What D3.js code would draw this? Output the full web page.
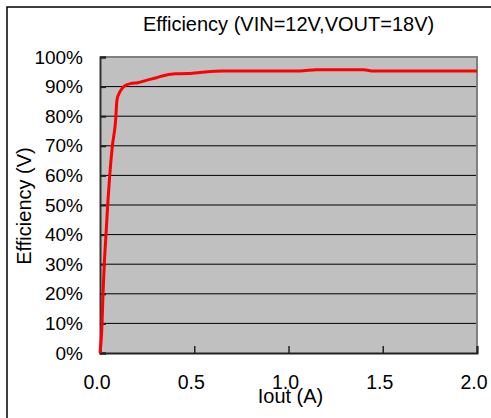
<!DOCTYPE html>
<html>
<head>
<meta charset="utf-8">
<script src="https://cdn.jsdelivr.net/npm/d3@7"></script>
<style>
  html, body { margin: 0; padding: 0; background: #fff; }
  svg { display: block; font-family: "Liberation Sans", Arial, sans-serif; }
</style>
</head>
<body>
<svg id="chart" width="491" height="418"></svg>
<script>
// Data
const iout = [0, 0.011, 0.016, 0.023, 0.032, 0.041, 0.051, 0.065, 0.083, 0.09, 0.106, 0.13, 0.168, 0.2, 0.25, 0.3, 0.33, 0.4, 0.46, 0.53, 0.65, 1.06, 1.15, 1.4, 1.44, 2.0];
const efficiency = [0, 10.1, 19.9, 30.4, 40.2, 50.3, 59.5, 69.6, 78.7, 85.5, 88.3, 90.2, 91.1, 91.3, 92.2, 93.0, 93.6, 94.3, 94.4, 94.8, 95.3, 95.3, 95.7, 95.7, 95.3, 95.3];
const xTicks = [0, 0.5, 1.0, 1.5, 2.0];
const yTicks = [0, 10, 20, 30, 40, 50, 60, 70, 80, 90, 100];
const titleText = "Efficiency (VIN=12V,VOUT=18V)";
const xLabel = "Iout (A)";
const yLabel = "Efficiency (V)";

const svg = d3.select("#chart");
const pLeft = 100, pRight = 477, pTop = 57, pBottom = 353;
const x = d3.scaleLinear().domain([0, 2]).range([pLeft, pRight]);
const y = d3.scaleLinear().domain([0, 100]).range([pBottom, pTop]);

// outer frame
svg.append("rect").attr("x", 7).attr("y", 7).attr("width", 700).attr("height", 700)
  .attr("fill", "none").attr("stroke", "#000").attr("stroke-width", 1.5);

// plot background
svg.append("rect").attr("x", pLeft).attr("y", pTop).attr("width", pRight - pLeft).attr("height", pBottom - pTop)
  .attr("fill", "#c0c0c0");

// gridlines
svg.append("g").selectAll("line").data(yTicks.filter(d => d > 0 && d < 100)).join("line")
  .attr("x1", pLeft).attr("x2", pRight)
  .attr("y1", d => y(d)).attr("y2", d => y(d))
  .attr("stroke", "#000").attr("stroke-width", 1);

// top and right border (gray)
svg.append("path")
  .attr("d", `M${pLeft},${pTop}H${pRight}V${pBottom}`)
  .attr("fill", "none").attr("stroke", "#808080").attr("stroke-width", 2);

// y axis
const yAxis = svg.append("g").attr("transform", `translate(${pLeft},0)`)
  .call(d3.axisLeft(y).tickValues(yTicks).tickSize(-6).tickPadding(17).tickFormat(d => d + "%"));
yAxis.select(".domain").attr("stroke", "#333").attr("stroke-width", 2);
yAxis.selectAll(".tick line").attr("stroke", "#222").attr("stroke-width", 2);
yAxis.selectAll(".tick text").attr("font-size", 19).attr("fill", "#000")
  .attr("font-family", "Liberation Sans, Arial, sans-serif");

// x axis
const xAxis = svg.append("g").attr("transform", `translate(0,${pBottom})`)
  .call(d3.axisBottom(x).tickValues(xTicks).tickSize(-7).tickPadding(22).tickFormat(d3.format(".1f")));
xAxis.select(".domain").attr("stroke", "#222").attr("stroke-width", 2);
xAxis.selectAll(".tick line").attr("stroke", "#222").attr("stroke-width", 1.5);
xAxis.selectAll(".tick text").attr("font-size", 19.5).attr("fill", "#000").attr("dx", -3.5)
  .attr("font-family", "Liberation Sans, Arial, sans-serif");

// efficiency line
const pts = iout.map((v, i) => [v, efficiency[i]]);
svg.append("path").datum(pts)
  .attr("d", d3.line().x(d => x(d[0])).y(d => y(d[1])).curve(d3.curveMonotoneX))
  .attr("fill", "none").attr("stroke", "#ff0000").attr("stroke-width", 3)
  .attr("stroke-linejoin", "round");

// title
svg.append("text").attr("x", 288.5).attr("y", 31).attr("text-anchor", "middle")
  .attr("font-size", 20).attr("fill", "#000").text(titleText);

// x label
svg.append("text").attr("x", 290.5).attr("y", 402.5).attr("text-anchor", "middle")
  .attr("font-size", 20).attr("fill", "#000").text(xLabel);

// y label
svg.append("text").attr("transform", "translate(31,206) rotate(-90)").attr("text-anchor", "middle")
  .attr("font-size", 20).attr("fill", "#000").text(yLabel);
</script>
</body>
</html>
